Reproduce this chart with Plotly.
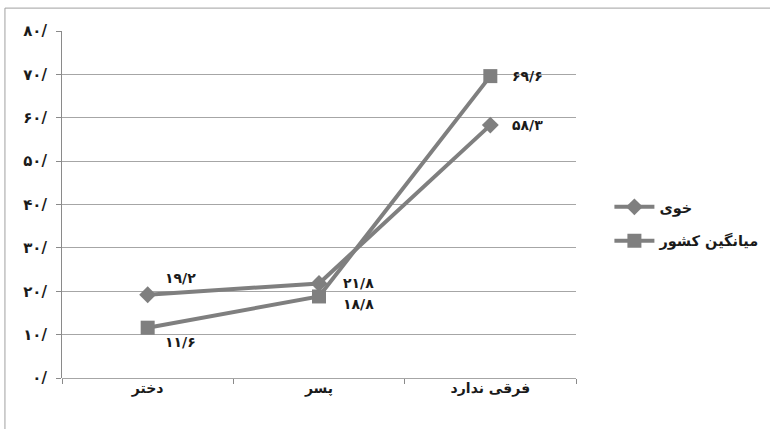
import plotly.graph_objects as go

# Categories (x axis) and the two series
categories = ["دختر", "پسر", "فرقی ندارد"]
khoy = [19.2, 21.8, 58.3]
national_avg = [11.6, 18.8, 69.6]
series_names = ["خوی", "میانگین کشور"]

y_ticks = [0, 10, 20, 30, 40, 50, 60, 70, 80]

FA_DIGITS = str.maketrans("0123456789", "۰۱۲۳۴۵۶۷۸۹")


def fa_num(v, decimals=1):
    s = f"{v:.{decimals}f}".replace(".", "/")
    return s.translate(FA_DIGITS)


def fa_tick(v):
    return (f"{int(v)}".translate(FA_DIGITS)) + "/"


GRAY = "#7f7f7f"
FONT = "DejaVu Sans"
TXT = "#1a1a1a"

fig = go.Figure()

fig.add_trace(go.Scatter(
    x=categories, y=khoy, name=series_names[0], legendgroup="a",
    mode="lines+markers",
    line=dict(color=GRAY, width=4),
    marker=dict(symbol="diamond", size=13, color=GRAY),
    cliponaxis=False,
))

fig.add_trace(go.Scatter(
    x=categories, y=national_avg, name=series_names[1], legendgroup="b",
    mode="lines+markers",
    line=dict(color=GRAY, width=4),
    marker=dict(symbol="square", size=14, color=GRAY),
    cliponaxis=False,
))

# value labels: pixel offsets from each point
khoy_offsets = [(33, 17), (39, 0), (37, 0)]
avg_offsets = [(33, -14), (39, -8), (37, 0)]

annotations = []
for vals, offs in ((khoy, khoy_offsets), (national_avg, avg_offsets)):
    for c, v, (dx, dy) in zip(categories, vals, offs):
        annotations.append(dict(
            x=c, y=v, xref="x", yref="y", text=fa_num(v),
            showarrow=False, xshift=dx, yshift=dy,
            font=dict(family=FONT, size=14, color=TXT, weight="bold"),
        ))

fig.update_layout(
    width=770, height=429,
    margin=dict(l=62, r=194, t=31, b=51, autoexpand=False),
    paper_bgcolor="white", plot_bgcolor="white",
    font=dict(family=FONT, color=TXT, size=13),
    showlegend=True,
    annotations=annotations,
    legend=dict(
        x=1.065, y=0.444, xanchor="left", yanchor="middle",
        font=dict(family=FONT, size=14.5, color=TXT, weight="bold"),
        bgcolor="rgba(0,0,0,0)", tracegroupgap=12,
        itemwidth=40,
    ),
    xaxis=dict(
        type="category", range=[-0.5, 2.5], automargin=False,
        showgrid=False, showline=False,
        ticks="outside", tickson="boundaries", ticklen=5,
        tickcolor="#8a8a8a",
        tickfont=dict(family=FONT, size=14, color=TXT, weight="bold"),
    ),
    yaxis=dict(
        range=[0, 80], tickvals=y_ticks, automargin=False,
        ticktext=[fa_tick(v) for v in y_ticks],
        showgrid=True, gridcolor="#a6a6a6", gridwidth=1,
        showline=True, linecolor="#8a8a8a", linewidth=1,
        ticks="outside", ticklen=5, tickcolor="#8a8a8a",
        tickfont=dict(family=FONT, size=15, color=TXT, weight="bold"),
        zeroline=True, zerolinecolor="#a6a6a6", zerolinewidth=1,
        ticklabelstandoff=6,
    ),
    shapes=[
        dict(type="rect", xref="paper", yref="paper",
             x0=-0.111, x1=1.39, y0=-0.2, y1=1.066,
             line=dict(color="#a0a0a0", width=1), layer="below"),
    ],
)

fig.write_html("out.html")
